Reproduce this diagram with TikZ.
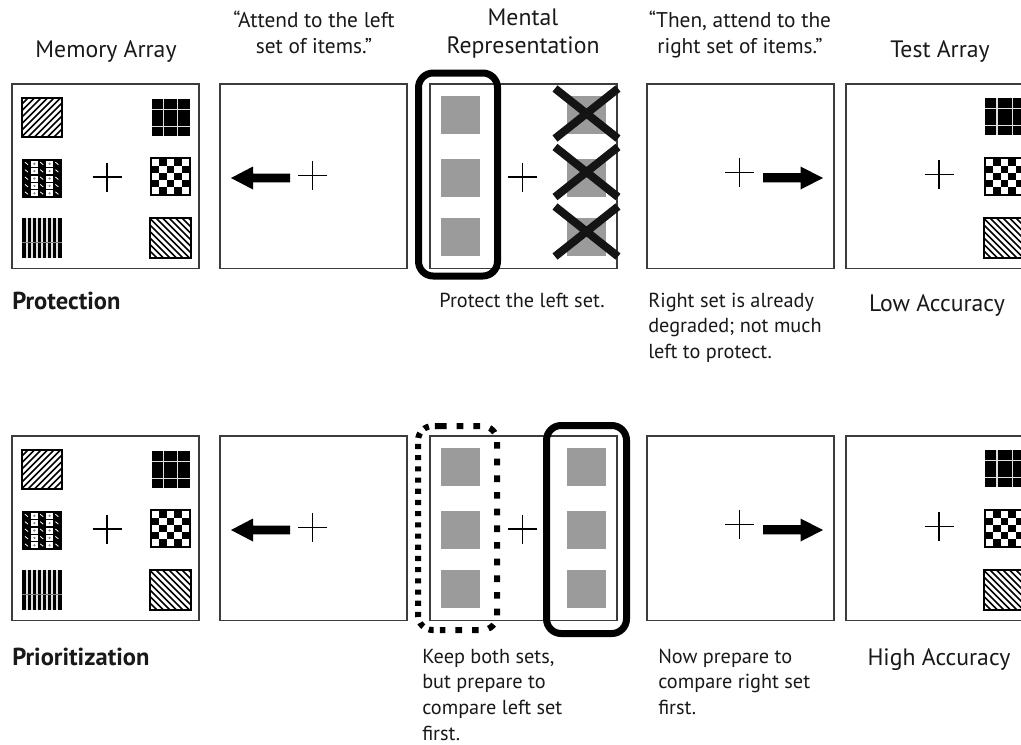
\documentclass[tikz,border=0pt]{standalone}
\usepackage{fontspec}
\setmainfont{PT Sans}
\definecolor{framegray}{HTML}{3C3C3C}
\definecolor{itemgray}{HTML}{9B9B9B}
\definecolor{linegray}{HTML}{E0E0E0}

% multi-line label whose baseline is the first line
\newcommand\lines[2]{\begin{tabular}[t]{@{}#1@{}}#2\end{tabular}}

% stimulus squares: #1,#2 = top-left corner, #3 = width, #4 = height
\newcommand\hatchup[4]{%
  \begin{scope}
    \clip ({#1},{#2}) rectangle ++(#3,#4);
    \foreach \k in {-46,-39.5,...,46}
      \draw[line width=1.15pt] ({#1+\k},{#2+#4}) -- ++(#4,-#4);
  \end{scope}
  \draw[line width=2.2pt] ({#1},{#2}) rectangle ++(#3,#4);}
\newcommand\hatchdown[4]{%
  \begin{scope}
    \clip ({#1},{#2}) rectangle ++(#3,#4);
    \foreach \k in {-46,-39.5,...,46}
      \draw[line width=1.15pt] ({#1+\k},{#2}) -- ++(#4,#4);
  \end{scope}
  \draw[line width=2.2pt] ({#1},{#2}) rectangle ++(#3,#4);}
\newcommand\gridsq[4]{%
  \fill[black] ({#1},{#2}) rectangle ++(#3,#4);
  \draw[linegray, line width=0.9pt]
    ({#1+0.3*#3},{#2}) -- ++(0,#4)
    ({#1+0.68*#3},{#2}) -- ++(0,#4)
    ({#1},{#2+0.28*#4}) -- ++(#3,0)
    ({#1},{#2+0.74*#4}) -- ++(#3,0);}
\newcommand\checksq[4]{%
  \fill[black] ({#1},{#2}) rectangle ++(#3,#4);
  \foreach \i/\j in {0/0,0/2,0/4,1/1,1/3,2/0,2/2,2/4,3/1,3/3,4/0,4/2,4/4}
    \fill[white] ({#1+2+\i*(#3-4)/5},{#2+2+\j*(#4-4)/5}) rectangle ++({(#3-4)/5},{(#4-4)/5});}
\newcommand\plaidsq[4]{%
  \fill[black] ({#1},{#2}) rectangle ++(#3,#4);
  \foreach \i in {1,3} \foreach \j in {0,...,4}
    \fill[white] ({#1+1+\i*(#3-2)/5+0.6},{#2+1+\j*(#4-2)/5+0.7}) rectangle ++({(#3-2)/5-1.2},{(#4-2)/5-1.4});
  \foreach \i in {1,3} \foreach \j in {0,...,4}
    \fill[gray] ({#1+1+(\i+0.5)*(#3-2)/5},{#2+1+(\j+0.5)*(#4-2)/5}) circle (1.2);
  \foreach \i in {0,2,4} \foreach \j in {0,...,4}
    \draw[white, line width=0.6pt] ({#1+1+\i*(#3-2)/5+2},{#2+1+(\j+0.3)*(#4-2)/5}) -- ++(3,2.5);}
\newcommand\stripesq[4]{%
  \fill[black] ({#1},{#2}) rectangle ++(#3,#4);
  \foreach \k in {5,10,...,35}
    \draw[linegray, line width=1.1pt] ({#1+\k},{#2}) -- ++(0,#4);
  \draw[gray, line width=0.4pt] ({#1},{#2+0.6*#4}) -- ++(#3,0);}

% the six items of the memory array, panel top-left at #1,#2
\newcommand\memoryitems[2]{%
  \hatchup{#1+10}{#2+14}{40}{39}
  \gridsq{#1+140}{#2+15}{38}{37}
  \plaidsq{#1+10}{#2+75}{40}{39}
  \checksq{#1+138}{#2+73}{41}{39}
  \stripesq{#1+10}{#2+134}{40}{40}
  \hatchdown{#1+138}{#2+134}{41}{40}}
% the right-hand items of the test array
\newcommand\testitems[2]{%
  \gridsq{#1+139}{#2+14}{40}{37}
  \checksq{#1+138}{#2+73}{41}{39}
  \hatchdown{#1+138}{#2+134}{41}{40}}
% three grey placeholders in a column, column left edge #1
\newcommand\graycolumn[2]{%
  \foreach \r in {12,75,134}
    \fill[itemgray] ({#1},{#2+\r}) rectangle ++(39,38);}
% fixation cross
\newcommand\fixcross[2]{%
  \draw[fixline] ({#1-14.5},{#2}) -- ({#1+14.5},{#2}) ({#1},{#2-14.5}) -- ({#1},{#2+14.5});}

\tikzset{
  panel/.style={draw=framegray, line width=1.1pt},
  fixline/.style={black, line width=0.9pt},
  cue/.style={fill=black, draw=none},
  selectbox/.style={draw=black, line width=5.25pt, rounded corners=11pt},
  lbl/.style={font=\fontsize{15.2}{19.2}\selectfont, inner sep=0pt, text=black!90},
  biglbl/.style={lbl, font=\fontsize{17.8}{21}\selectfont},
  quotelbl/.style={lbl, font=\fontsize{16}{19.5}\selectfont},
  boldlbl/.style={lbl, font=\fontsize{18.4}{21}\selectfont\bfseries},
  cross/.style={black!92, line width=6pt}
}

\begin{document}
\begin{tikzpicture}[x=0.75pt, y=-0.75pt]
\useasboundingbox (0,0) rectangle (1021,744);
\fill[white] (0,0) rectangle (1021,744);
\clip (0,0) rectangle (1021,744);

% ---------- column headings ----------
\node[biglbl, anchor=base] (hmem) at (106,57) {Memory Array};
\node[quotelbl, anchor=base] (hleft) at (314,27) {\lines{c}{“Attend to the left\\set of items.”}};
\node[biglbl, anchor=base] (hmental) at (523,25) {\lines{c}{Mental\\Representation}};
\node[quotelbl, anchor=base] (hright) at (740,27) {\lines{c}{“Then, attend to the\\right set of items.”}};
\node[biglbl, anchor=base] (htest) at (940,57) {Test Array};

% ---------- panels of both rows ----------
\foreach \dy in {0,352} {
  \foreach \px in {12,220,430,647,846}
    \draw[panel] (\px,84+\dy) rectangle ++(187,184.5);
  \memoryitems{12}{84+\dy}
  \testitems{846}{84+\dy}
  \fixcross{107}{177+\dy}
  \fixcross{312.5}{175.5+\dy}
  \fixcross{522.5}{177+\dy}
  \fixcross{739.5}{172.5+\dy}
  \fixcross{939}{174.5+\dy}
  % attention cues
  \fill[cue] (231,178+\dy) -- (253,166.5+\dy) -- (253,173.7+\dy) -- (290,173.7+\dy)
     -- (290,182.3+\dy) -- (253,182.3+\dy) -- (253,189.5+\dy) -- cycle;
  \fill[cue] (823,178+\dy) -- (800.5,166.5+\dy) -- (800.5,173.2+\dy) -- (763,173.2+\dy)
     -- (763,182.3+\dy) -- (800.5,182.3+\dy) -- (800.5,189.5+\dy) -- cycle;
  % mental representation placeholders
  \graycolumn{441}{84+\dy}
  \graycolumn{567}{84+\dy}
}

% ---------- protection row ----------
\foreach \cy in {113.5,172,231.5}
  \draw[cross] (555,\cy-25) -- (618,\cy+25) (555,\cy+25) -- (618,\cy-25);
\draw[selectbox] (418.5,73) rectangle (497.5,276);

\node[boldlbl, anchor=base west] (protection) at (12,309.5) {Protection};
\node[lbl, anchor=base] (protleft) at (522,307.3) {Protect the left set.};
\node[lbl, anchor=base west] (degraded) at (648,307.3) {\lines{l}{Right set is already\\degraded; not much\\left to protect.}};
\node[biglbl, anchor=base] (lowacc) at (937,311) {Low Accuracy};

% ---------- prioritization row ----------
\draw[black, line width=4.5pt, rounded corners=11pt, dash pattern=on 3.8pt off 4.6pt]
  (440,426) -- (418,426) -- (418,630) -- (440,630);
\draw[black, line width=4.5pt, rounded corners=11pt, dash pattern=on 5pt off 7.5pt]
  (440,426) -- (497,426) -- (497,630) -- (440,630);
\draw[selectbox] (546.5,425.5) rectangle (626.5,633.5);

\node[boldlbl, anchor=base west] (prioritization) at (12,665.5) {Prioritization};
\node[lbl, anchor=base west] (keepboth) at (422,663.3) {\lines{l}{Keep both sets,\\but prepare to\\compare left set\\first.}};
\node[lbl, anchor=base west] (nowprep) at (658,663.3) {\lines{l}{Now prepare to\\compare right set\\first.}};
\node[biglbl, anchor=base] (highacc) at (939,665.5) {High Accuracy};
\end{tikzpicture}
\end{document}
